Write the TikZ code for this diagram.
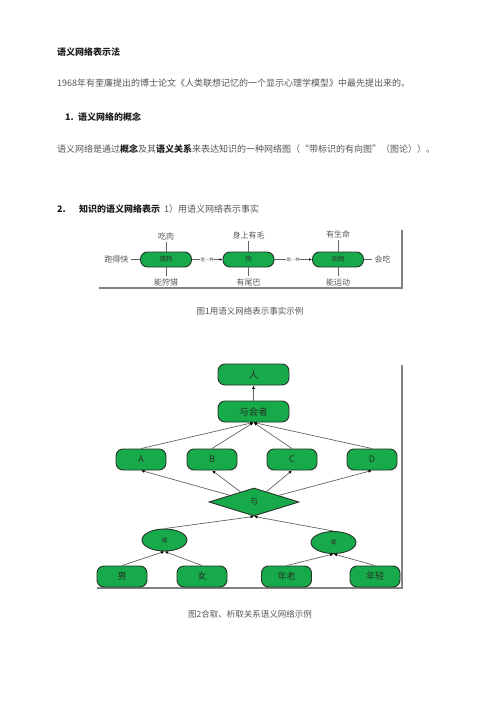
\documentclass[tikz,border=0pt]{standalone}
\usepackage{fontspec}
\setmainfont{Noto Sans CJK SC}
\usetikzlibrary{shapes.geometric,arrows.meta}
\definecolor{gfill}{RGB}{22,170,74}
\definecolor{gline}{RGB}{40,50,40}
\definecolor{txtgray}{RGB}{85,85,85}
\definecolor{txtdark}{RGB}{30,30,30}
\definecolor{framegray}{RGB}{130,130,130}
\definecolor{edgegray}{RGB}{100,100,100}
\tikzset{
  bodytext/.style={anchor=west,inner sep=0pt,text=txtgray,font=\fontsize{9}{9}\selectfont},
  headtext/.style={anchor=west,inner sep=0pt,text=txtdark,font=\fontsize{9}{9}\selectfont\bfseries},
  caption/.style={inner sep=0pt,text=txtgray,font=\fontsize{8.5}{8.5}\selectfont},
  gbox/.style={draw=gline,fill=gfill,line width=0.9pt,rounded corners=7pt,inner sep=0pt,text=gline},
  smallbox/.style={gbox,minimum width=51pt,minimum height=15pt,font=\fontsize{6.5}{6.5}\selectfont},
  bigbox/.style={gbox,minimum width=71pt,minimum height=21pt,font=\fontsize{9.5}{9.5}\selectfont},
  midbox/.style={gbox,minimum width=50pt,minimum height=21pt,font=\fontsize{9}{9}\selectfont},
  flabel/.style={inner sep=2.5pt,text=txtgray,font=\fontsize{8}{8}\selectfont},
  fline/.style={draw=edgegray,line width=0.6pt},
  isa/.style={draw=edgegray,line width=0.6pt,-{Latex[length=3pt,width=2.5pt,color=black]}},
  isalabel/.style={fill=white,inner sep=0.5pt,text=txtgray,font=\fontsize{4.5}{4.5}\selectfont},
  edge2/.style={draw=edgegray,line width=0.7pt,-{Latex[length=3.5pt,width=3pt,color=black]}},
  framebar/.style={draw=framegray,line width=1.8pt},
}
\begin{document}
\begin{tikzpicture}[x=1pt,y=-1pt]
\useasboundingbox[fill=white] (0,0) rectangle (500,707);

% ---- text ----
\node[headtext] (title) at (57,52) {语义网络表示法};
\node[bodytext] (p1) at (57,83) {1968年有奎廉提出的博士论文《人类联想记忆的一个显示心理学模型》中最先提出来的。};
\node[headtext] (h1num) at (65,117) {1.};
\node[headtext] (h1) at (78,117) {语义网络的概念};
\node[bodytext] (p2) at (57,149) {语义网络是通过\textcolor{txtdark}{\bfseries 概念}及其\textcolor{txtdark}{\bfseries 语义关系}来表达知识的一种网络图（“带标识的有向图”（图论））。};
\node[headtext] (h2num) at (57,209) {2.};
\node[headtext] (h2) at (79,209) {知识的语义网络表示\hspace{4pt}\textcolor{txtgray}{\mdseries 1）用语义网络表示事实}};

% ---- figure 1 ----
\draw[framebar] (99,288) -- (402,288) -- (402,230);
\node[smallbox] (lg) at (166,259.5) {猎狗};
\node[smallbox] (gou) at (248.5,259.5) {狗};
\node[smallbox] (dw) at (338,259.5) {动物};

\node[flabel] (l1) at (166,236) {吃肉};
\node[flabel] (l2) at (166,282) {能狩猎};
\node[flabel,anchor=east] (l3) at (131,259.5) {跑得快};
\node[flabel] (l4) at (248.5,235) {身上有毛};
\node[flabel] (l5) at (248.5,282) {有尾巴};
\node[flabel] (l6) at (338,234) {有生命};
\node[flabel] (l7) at (338,282) {能运动};
\node[flabel,anchor=west] (l8) at (372,259.5) {会吃};

\draw[fline] (l1) -- (lg);
\draw[fline] (l2) -- (lg);
\draw[fline] (l3) -- (lg);
\draw[fline] (l4) -- (gou);
\draw[fline] (l5) -- (gou);
\draw[fline] (l6) -- (dw);
\draw[fline] (l7) -- (dw);
\draw[fline] (l8) -- (dw);

\draw[isa] (lg) -- node[isalabel] {是—种} (gou);
\draw[isa] (gou) -- node[isalabel] {是—种} (dw);

\node[caption] (cap1) at (250,311) {图1用语义网络表示事实示例};

% ---- figure 2 ----
\draw[framebar] (97,588) -- (402,588) -- (402,365);
\node[bigbox] (ren) at (253.5,374.5) {人};
\node[bigbox] (yhz) at (253.5,411.5) {与会者};
\node[midbox] (A) at (141,459.5) {A};
\node[midbox] (B) at (212,459.5) {B};
\node[midbox] (C) at (292,459.5) {C};
\node[midbox] (D) at (372,459.5) {D};
\node[draw=gline,fill=gfill,line width=0.9pt,diamond,shape aspect=3.2,inner sep=0pt,minimum width=90pt,minimum height=28pt,text=gline,font=\fontsize{8}{8}\selectfont] (yu) at (254,502) {与};
\node[draw=gline,fill=gfill,line width=0.9pt,ellipse,inner sep=0pt,minimum width=45pt,minimum height=22pt,text=gline,font=\fontsize{6}{6}\selectfont] (or1) at (164.5,540) {或};
\node[draw=gline,fill=gfill,line width=0.9pt,ellipse,inner sep=0pt,minimum width=45pt,minimum height=22pt,text=gline,font=\fontsize{6}{6}\selectfont] (or2) at (333.5,542.5) {或};
\node[midbox] (nan) at (122,576.5) {男};
\node[midbox] (nv) at (202,576.5) {女};
\node[midbox] (nl) at (286.5,576.5) {年老};
\node[midbox] (nq) at (375,576.5) {年轻};

\draw[edge2] (yhz) -- (ren);
\draw[edge2] (A.north) -- (yhz.south);
\draw[edge2] (B.north) -- (yhz.south);
\draw[edge2] (C.north) -- (yhz.south);
\draw[edge2] (D.north) -- (yhz.south);
\draw[edge2] (yu) -- (A.south);
\draw[edge2] (yu) -- (B.south);
\draw[edge2] (yu) -- (C.south);
\draw[edge2] (yu) -- (D.south);
\draw[edge2] (or1.north) -- (yu.south);
\draw[edge2] (or2.north) -- (yu.south);
\draw[edge2] (nan.north) -- (or1.south);
\draw[edge2] (nv.north) -- (or1.south);
\draw[edge2] (nl.north) -- (or2.south);
\draw[edge2] (nq.north) -- (or2.south);

\node[caption] (cap2) at (250,614) {图2合取、析取关系语义网络示例};
\end{tikzpicture}
\end{document}
